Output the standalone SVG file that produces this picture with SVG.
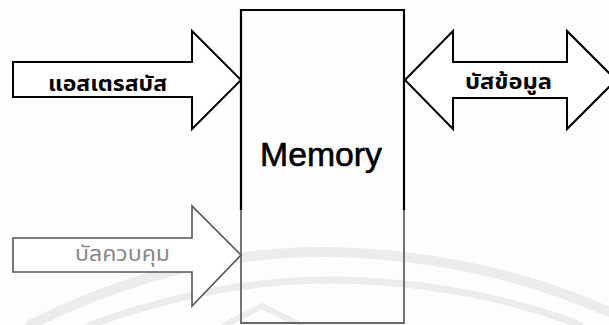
<svg xmlns="http://www.w3.org/2000/svg" width="609" height="325" viewBox="0 0 609 325">
<style>
.wm{fill:none;stroke:#ececec;stroke-linecap:round}
.arrow{fill:#fff;stroke:#000;stroke-width:2;stroke-linejoin:miter}
.arrow.gray{stroke:#555;stroke-width:1.6}
.th{font-family:"Noto Sans Thai","Loma","Garuda","Noto Sans","DejaVu Sans",sans-serif;font-size:22px}
.lbl{font-family:"Liberation Sans",Arial,sans-serif;font-size:34px;fill:#000;stroke:#000;stroke-width:0.6}
</style>
<rect width="609" height="325" fill="#fdfdfd"/>
<g id="watermark">
<path class="wm" stroke-width="10" d="M30,325 Q180,250 330,252 Q480,255 609,312"/>
<path class="wm" stroke-width="7" d="M90,325 Q220,278 340,280 Q470,283 580,325"/>
<path class="wm" stroke-width="6" d="M225,325 L262,306 L300,325"/>
</g>
<g id="memory">
<path d="M241,210 L241,10 L404,10 L404,210" fill="none" stroke="#000" stroke-width="2.2"/>
<path d="M241,210 L241,323 L404,323 L404,210" fill="none" stroke="#666" stroke-width="1.8"/>
<text class="lbl" x="260" y="166" textLength="122" lengthAdjust="spacingAndGlyphs">Memory</text>
</g>
<g id="connectors">
<g id="address-bus">
<path class="arrow" d="M13,62 L192,62 L192,31 L241,80 L192,129 L192,97 L13,97 Z"/>
<text class="th" x="48" y="91" font-weight="bold" fill="#000" textLength="119" lengthAdjust="spacingAndGlyphs">แอสเตรสบัส</text>
</g>
<g id="data-bus">
<path class="arrow" d="M405,80 L453,31 L453,62 L567,62 L567,31 L616,80 L567,129 L567,98 L453,98 L453,129 Z"/>
<text class="th" x="465" y="89" font-weight="bold" fill="#000" textLength="87" lengthAdjust="spacingAndGlyphs">บัสข้อมูล</text>
</g>
<g id="control-bus">
<path class="arrow gray" d="M13,238 L192,238 L192,206 L241,255 L192,306 L192,272 L13,272 Z"/>
<text class="th" x="75" y="261" fill="#888" textLength="95" lengthAdjust="spacingAndGlyphs">บัลควบคุม</text>
</g>
</g>
</svg>
